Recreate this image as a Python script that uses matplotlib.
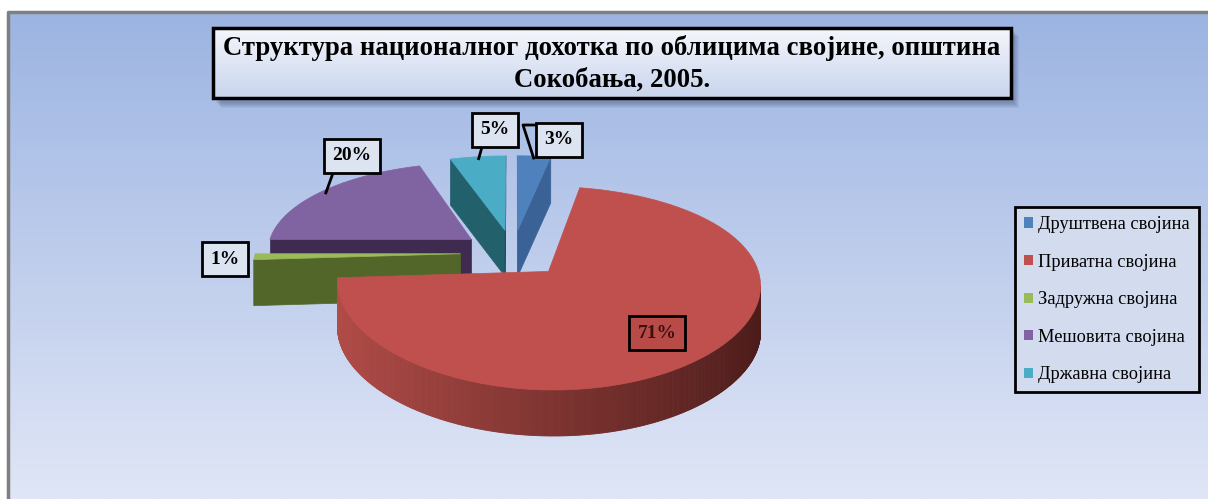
import numpy as np
import matplotlib.pyplot as plt
from matplotlib.patches import Polygon, Rectangle
from matplotlib.colors import to_rgb

# Подаци
kategorije = ['Друштвена својина', 'Приватна својина', 'Задружна својина',
              'Мешовита својина', 'Државна својина']
udeli = [3, 71, 1, 20, 5]
naslov = 'Структура националног дохотка по облицима својине, општина\nСокобања, 2005.'

boje_gore = ['#4f81bd', '#c0504d', '#9bbb59', '#8064a2', '#4bacc6']
boje_svetle = ['#4a7bb8', '#b24c48', '#52662a', '#3f2b50', '#22606b']
boje_tamne = ['#3a6296', '#4a1b19', '#485a24', '#3a274a', '#1d535d']

# Геометрија 3Д пите (у пикселима слике)
cx, cy = 513, 253
rx, ry = 205, 93
persp_x, persp_y = 0.12, 0.16
dubina = 46
eksplozija = 0.256

# положаји ознака (центри кутија)
poz_oznaka = [(559, 140), (657, 333), (225, 259), (352, 156), (495, 130)]
prelom_linije = [(523, 125), None, None, (333, 173), (482, 147)]

W, H = 1208, 499
fig = plt.figure(figsize=(W / 100, H / 100), dpi=100)
ax = fig.add_axes([0, 0, 1, 1])
ax.set_xlim(0, W)
ax.set_ylim(H, 0)
ax.axis('off')

# позадина са преливом
gore = np.array(to_rgb('#9cb4e2'))
dole = np.array(to_rgb('#e0e6f6'))
t = np.linspace(0, 1, 256)[:, None]
grad = (gore * (1 - t) + dole * t)[:, None, :]
ax.imshow(grad, extent=[8, W, H, 12], aspect='auto', zorder=0)
ax.plot([8, 8, W], [H, 12, 12], color='#7f7f7f', lw=2.5, zorder=1)


def projekcija(X, Y, Z):
    return (cx + rx * X / (1 + persp_x * Y),
            cy - ry * Y / (1 + persp_y * Y) - dubina * Z)


def povrsina(p):
    x, y = np.array(p).T
    return 0.5 * np.sum(x * np.roll(y, -1) - np.roll(x, -1) * y)


def mesaj(c1, c2, f):
    return tuple(np.array(to_rgb(c1)) * (1 - f) + np.array(to_rgb(c2)) * f)


ugao = np.cumsum([0] + udeli) / sum(udeli) * 360
kriske = []
for i in range(len(udeli)):
    t0, t1 = ugao[i], ugao[i + 1]
    sred = np.radians((t0 + t1) / 2)
    ox, oy = eksplozija * np.sin(sred), eksplozija * np.cos(sred)
    kriske.append((oy, i, t0, t1, ox))

# crtanje od zadnjih ka prednjim
z = 2
for oy, i, t0, t1, ox in sorted(kriske, reverse=True):
    th = np.radians(np.linspace(t0, t1, max(int(t1 - t0) * 2, 4)))
    gornje = [projekcija(ox + np.sin(a), oy + np.cos(a), 0) for a in th]
    donje = [projekcija(ox + np.sin(a), oy + np.cos(a), -1) for a in th]
    vrh_g = projekcija(ox, oy, 0)
    vrh_d = projekcija(ox, oy, -1)

    # bocne radijalne strane
    pocetak = [vrh_g, gornje[0], donje[0], vrh_d]
    kraj = [gornje[-1], vrh_g, vrh_d, donje[-1]]
    for strana, boja in [(pocetak, boje_svetle[i]), (kraj, boje_tamne[i])]:
        if povrsina(strana) < 0:
            ax.add_patch(Polygon(strana, closed=True, fc=boja, ec=boja, lw=0.5, zorder=z))

    # zakrivljena strana
    for j in range(len(th) - 1):
        quad = [gornje[j], gornje[j + 1], donje[j + 1], donje[j]]
        if povrsina(quad) < 0:
            f = (1 - np.sin(th[j])) / 2
            boja = mesaj(boje_tamne[i], boje_svetle[i], f)
            ax.add_patch(Polygon(quad, closed=True, fc=boja, ec=boja, lw=0.6, zorder=z))
    z += 1

    # горња страна
    ax.add_patch(Polygon([vrh_g] + gornje, closed=True, fc=boje_gore[i],
                         ec=boje_gore[i], lw=0.5, zorder=z))
    z += 1

# ознаке процената
for i, v in enumerate(udeli):
    oy, _, t0, t1, ox = kriske[i]
    lx, ly = poz_oznaka[i]
    if i == 1:
        ax.text(lx, ly, f'{v}%', ha='center', va='center', fontsize=14,
                fontweight='bold', family='Liberation Serif', color='#3a1010',
                bbox=dict(boxstyle='square,pad=0.42', fc='#b84b48', ec='black', lw=2),
                zorder=50)
        continue
    ax.text(lx, ly, f'{v}%', ha='center', va='center', fontsize=14,
            fontweight='bold', family='Liberation Serif', color='black',
            bbox=dict(boxstyle='square,pad=0.42', fc='#dde4f1', ec='black', lw=2),
            zorder=50)
    if prelom_linije[i] is not None:
        sred = np.radians((t0 + t1) / 2)
        kx, ky = projekcija(ox + 0.97 * np.sin(sred), oy + 0.97 * np.cos(sred), 0)
        px, py = prelom_linije[i]
        xs, ys = [px, kx], [py, ky]
        if i == 0:
            xs, ys = [lx - 24, px, kx], [py, py, ky]
        ax.plot(xs, ys, color='black', lw=2, zorder=49)

# наслов са сенком
for k in range(6):
    ax.add_patch(Rectangle((216 + k, 31 + k), 798, 72, fc='#1a2a50',
                           alpha=0.06, lw=0, zorder=40))
tg = np.linspace(0, 1, 64)[:, None]
tgrad = (np.array(to_rgb('#f4f6fb')) * (1 - tg) + np.array(to_rgb('#c9d5ee')) * tg)[:, None, :]
ax.imshow(tgrad, extent=[213, 1011, 98, 28], aspect='auto', zorder=41)
ax.add_patch(Rectangle((213, 28), 798, 70, fc='none', ec='black', lw=2.5, zorder=42))
ax.text(612, 64, naslov, ha='center', va='center', fontsize=19.3, fontweight='bold',
        family='Liberation Serif', linespacing=1.32, zorder=43)

# легенда
rukohvati = [Rectangle((0, 0), 1, 1, fc=c, ec='none') for c in boje_gore]
leg = ax.legend(rukohvati, kategorije, loc='upper left',
                bbox_to_anchor=(1015 / W, 1 - 207 / H), frameon=True, fancybox=False,
                handlelength=0.5, handleheight=0.5, handletextpad=0.25,
                labelspacing=1.12, borderpad=0.5, borderaxespad=0,
                prop={'family': 'Liberation Serif', 'size': 13.2})
leg.get_frame().set_edgecolor('black')
leg.get_frame().set_linewidth(2)
leg.get_frame().set_facecolor('#d3dcef')
leg.get_frame().set_alpha(1)
leg.set_zorder(60)

fig.savefig('out.png', dpi=100)
